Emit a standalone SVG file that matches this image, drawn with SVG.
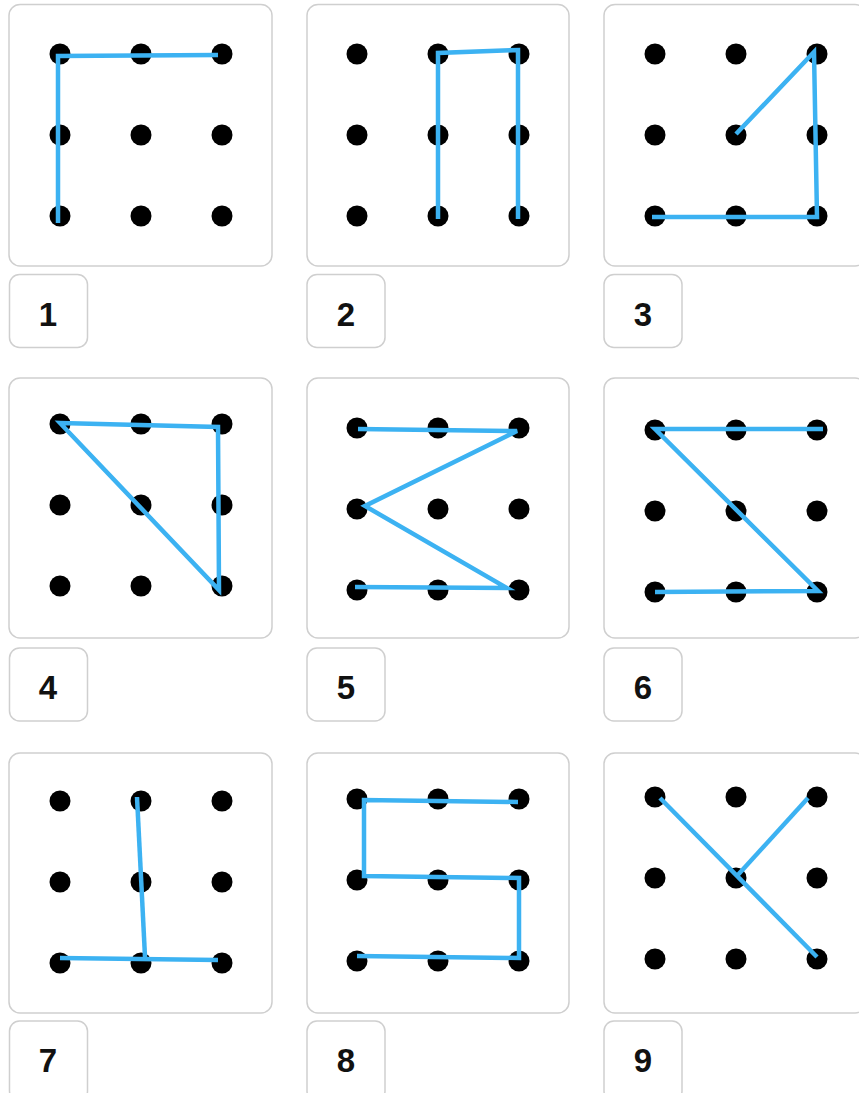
<svg xmlns="http://www.w3.org/2000/svg" width="859" height="1093" viewBox="0 0 859 1093">
<style>
.panel{fill:#fff;stroke:#cfcfcf;stroke-width:1.5}
.lbl{fill:#fff;stroke:#cfcfcf;stroke-width:1.5}
.dot{fill:#000}
.ln{fill:none;stroke:#3cb2f2;stroke-width:4.5;stroke-linejoin:miter;stroke-linecap:butt}
.num{font-family:"Liberation Sans",Arial,sans-serif;font-weight:bold;font-size:33px;fill:#111;text-anchor:middle}
</style>
<defs>
<g id="grid">
<circle class="dot" cx="0" cy="0" r="10.5"/><circle class="dot" cx="81" cy="0" r="10.5"/><circle class="dot" cx="162" cy="0" r="10.5"/>
<circle class="dot" cx="0" cy="81" r="10.5"/><circle class="dot" cx="81" cy="81" r="10.5"/><circle class="dot" cx="162" cy="81" r="10.5"/>
<circle class="dot" cx="0" cy="162" r="10.5"/><circle class="dot" cx="81" cy="162" r="10.5"/><circle class="dot" cx="162" cy="162" r="10.5"/>
</g>
</defs>
<rect width="859" height="1093" fill="#fff"/>

<g id="panel1">
<rect class="panel" x="9" y="4.5" width="263" height="261.5" rx="11"/>
<use href="#grid" x="60" y="54"/>
<rect class="lbl" x="9.5" y="274.5" width="78" height="73" rx="10"/>
<text class="num" x="48" y="326">1</text>
</g>
<g id="panel2">
<rect class="panel" x="307" y="4.5" width="262" height="261.5" rx="11"/>
<use href="#grid" x="357" y="54"/>
<rect class="lbl" x="307" y="274.5" width="78" height="73" rx="10"/>
<text class="num" x="346" y="326">2</text>
</g>
<g id="panel3">
<rect class="panel" x="604" y="4.5" width="262" height="261.5" rx="11"/>
<use href="#grid" x="655" y="54"/>
<rect class="lbl" x="604" y="274.5" width="78" height="73" rx="10"/>
<text class="num" x="643" y="326">3</text>
</g>
<g id="panel4">
<rect class="panel" x="9" y="378" width="263" height="260" rx="11"/>
<use href="#grid" x="60" y="424"/>
<rect class="lbl" x="9.5" y="648" width="78" height="73" rx="10"/>
<text class="num" x="48" y="699">4</text>
</g>
<g id="panel5">
<rect class="panel" x="307" y="378" width="262" height="260" rx="11"/>
<use href="#grid" x="357" y="428"/>
<rect class="lbl" x="307" y="648" width="78" height="73" rx="10"/>
<text class="num" x="346" y="699">5</text>
</g>
<g id="panel6">
<rect class="panel" x="604" y="378" width="262" height="260" rx="11"/>
<use href="#grid" x="655" y="430"/>
<rect class="lbl" x="604" y="648" width="78" height="73" rx="10"/>
<text class="num" x="643" y="699">6</text>
</g>
<g id="panel7">
<rect class="panel" x="9" y="753" width="263" height="260" rx="11"/>
<use href="#grid" x="60" y="801"/>
<rect class="lbl" x="9.5" y="1021" width="78" height="80" rx="10"/>
<text class="num" x="48" y="1072">7</text>
</g>
<g id="panel8">
<rect class="panel" x="307" y="753" width="262" height="260" rx="11"/>
<use href="#grid" x="357" y="799"/>
<rect class="lbl" x="307" y="1021" width="78" height="80" rx="10"/>
<text class="num" x="346" y="1072">8</text>
</g>
<g id="panel9">
<rect class="panel" x="604" y="753" width="262" height="260" rx="11"/>
<use href="#grid" x="655" y="797"/>
<rect class="lbl" x="604" y="1021" width="78" height="80" rx="10"/>
<text class="num" x="643" y="1072">9</text>
</g>

<g id="connectors">
<polyline class="ln" points="218,55 58,56 58,223"/>
<polyline class="ln" points="438,219 438,53 518,50 518,219"/>
<polyline class="ln" points="736,134 814,52 817,217 652,217"/>
<polygon class="ln" points="60,423 218,427 219,590"/>
<polyline class="ln" points="358,429 517,431 365,506 507,588 355,587"/>
<polyline class="ln" points="823,429 655,429 818,591 655,592"/>
<polyline class="ln" points="137,797 145,957"/>
<polyline class="ln" points="60,958 218,960"/>
<polyline class="ln" points="518,802 364,800 364,876 519,878 519,958 357,956"/>
<polyline class="ln" points="660,798 817,957"/>
<polyline class="ln" points="736,877 808,798"/>
</g>
</svg>
